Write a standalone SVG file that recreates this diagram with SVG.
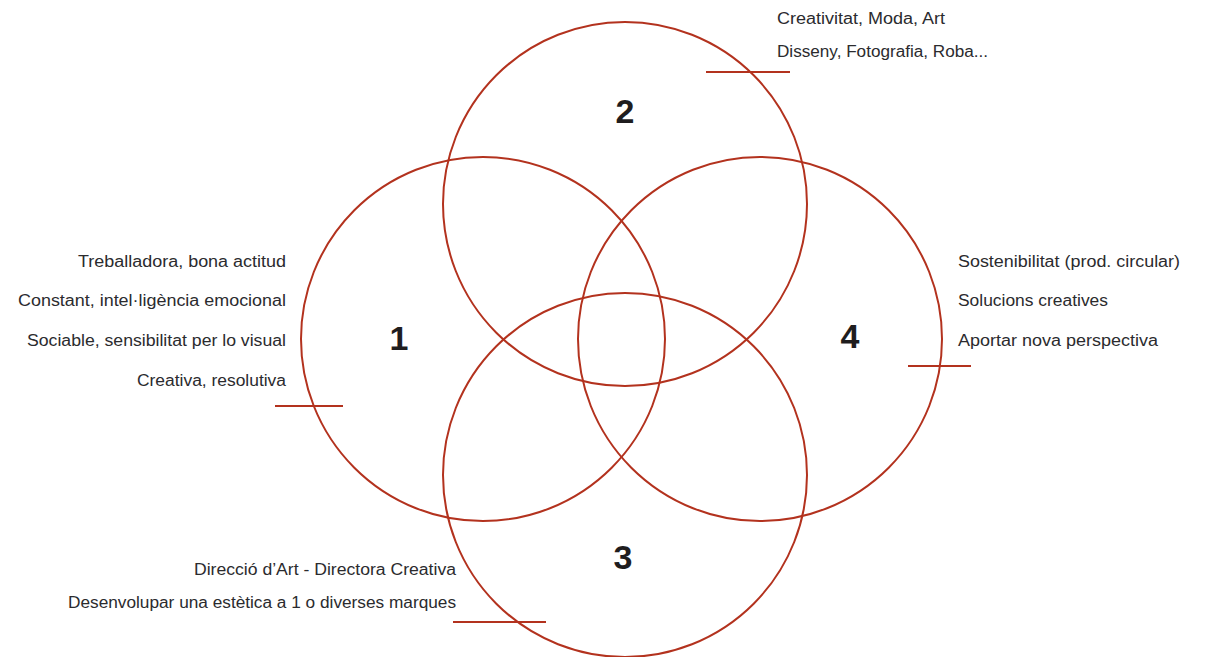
<svg xmlns="http://www.w3.org/2000/svg" width="1205" height="657" viewBox="0 0 1205 657">
<style>
.c{fill:none;stroke:#b3321e;stroke-width:2}
.l{stroke:#b3321e;stroke-width:2}
.t{font-family:"Liberation Sans",Arial,sans-serif;font-size:16px;fill:#2b2b2e}
.r{text-anchor:end}
.n{font-family:"Liberation Sans",Arial,sans-serif;font-size:34px;font-weight:bold;fill:#1f1d1e;text-anchor:middle}
</style>
<rect width="1205" height="657" fill="#fff"/>
<g id="node-1">
<circle class="c" cx="483" cy="339" r="182"/>
<text class="n" x="399" y="350">1</text>
<line class="l" x1="275" y1="406" x2="343" y2="406"/>
<text class="t r" x="286" y="267" textLength="208" lengthAdjust="spacingAndGlyphs">Treballadora, bona actitud</text>
<text class="t r" x="286" y="306" textLength="268" lengthAdjust="spacingAndGlyphs">Constant, intel·ligència emocional</text>
<text class="t r" x="286" y="346" textLength="259" lengthAdjust="spacingAndGlyphs">Sociable, sensibilitat per lo visual</text>
<text class="t r" x="286" y="386" textLength="149" lengthAdjust="spacingAndGlyphs">Creativa, resolutiva</text>
</g>
<g id="node-2">
<circle class="c" cx="625" cy="204" r="182"/>
<text class="n" x="625" y="123">2</text>
<line class="l" x1="706" y1="72" x2="790" y2="72"/>
<text class="t" x="777" y="24" textLength="168" lengthAdjust="spacingAndGlyphs">Creativitat, Moda, Art</text>
<text class="t" x="777" y="57" textLength="211" lengthAdjust="spacingAndGlyphs">Disseny, Fotografia, Roba...</text>
</g>
<g id="node-4">
<circle class="c" cx="760" cy="339" r="182"/>
<text class="n" x="850" y="348">4</text>
<line class="l" x1="908" y1="366" x2="971" y2="366"/>
<text class="t" x="958" y="267" textLength="222" lengthAdjust="spacingAndGlyphs">Sostenibilitat (prod. circular)</text>
<text class="t" x="958" y="306" textLength="150" lengthAdjust="spacingAndGlyphs">Solucions creatives</text>
<text class="t" x="958" y="346" textLength="200" lengthAdjust="spacingAndGlyphs">Aportar nova perspectiva</text>
</g>
<g id="node-3">
<circle class="c" cx="625" cy="475" r="182"/>
<text class="n" x="623" y="569">3</text>
<line class="l" x1="453" y1="622" x2="546" y2="622"/>
<text class="t r" x="456" y="575" textLength="262" lengthAdjust="spacingAndGlyphs">Direcció d’Art - Directora Creativa</text>
<text class="t r" x="456" y="608" textLength="388" lengthAdjust="spacingAndGlyphs">Desenvolupar una estètica a 1 o diverses marques</text>
</g>
<g id="connectors"></g>
</svg>
